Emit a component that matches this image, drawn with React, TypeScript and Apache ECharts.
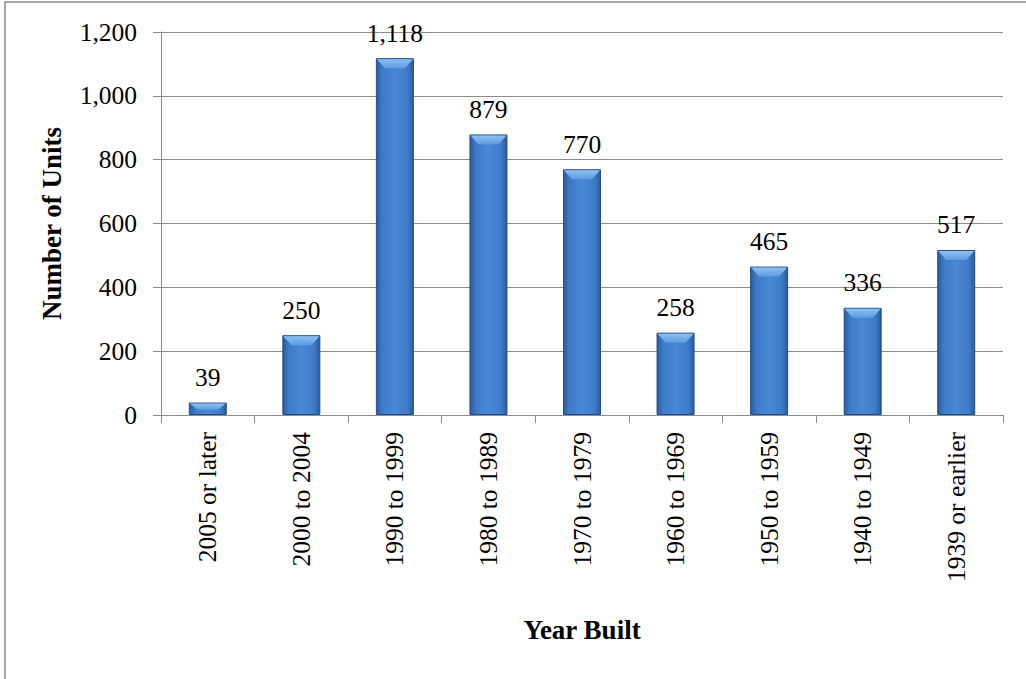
import React, { useEffect, useRef } from "react";
import * as echarts from "echarts";

const categories = [
  "2005 or later",
  "2000 to 2004",
  "1990 to 1999",
  "1980 to 1989",
  "1970 to 1979",
  "1960 to 1969",
  "1950 to 1959",
  "1940 to 1949",
  "1939 or earlier",
];
const units = [39, 250, 1118, 879, 770, 258, 465, 336, 517];
const yTicks = { min: 0, max: 1200, interval: 200 };

const fmt = (v: number) => v.toLocaleString("en-US");
const FONT = "Liberation Serif";
const FS = 25.5;
const BAR_W = 38;

export default function App() {
  const ref = useRef<HTMLDivElement>(null);
  useEffect(() => {
    if (!ref.current) return;
    const chart = echarts.init(ref.current, null, { renderer: "svg" });
    chart.setOption({
      animation: false,
      backgroundColor: "#ffffff",
      textStyle: { fontFamily: FONT, color: "#000" },
      graphic: [
        {
          type: "rect",
          shape: { x: 5, y: 2, width: 1040, height: 700 },
          style: { fill: "none", stroke: "#8c8c8c", lineWidth: 1.5 },
          silent: true,
        },
      ],
      grid: { left: 161, right: 23, top: 32, bottom: 264, containLabel: false },
      xAxis: {
        type: "category",
        data: categories,
        name: "Year Built",
        nameLocation: "middle",
        nameGap: 201,
        nameTextStyle: { fontFamily: FONT, fontSize: 27, fontWeight: "bold", color: "#000" },
        axisLine: { lineStyle: { color: "#8c8c8c", width: 1 } },
        axisTick: { show: true, length: 8, alignWithLabel: false, lineStyle: { color: "#8c8c8c" } },
        axisLabel: {
          rotate: 90,
          fontFamily: FONT,
          fontSize: FS,
          color: "#000",
          margin: 17,
          interval: 0,
        },
      },
      yAxis: {
        type: "value",
        min: yTicks.min,
        max: yTicks.max,
        interval: yTicks.interval,
        name: "Number of Units",
        nameLocation: "middle",
        nameGap: 96,
        nameRotate: 90,
        nameTextStyle: { fontFamily: FONT, fontSize: 27, fontWeight: "bold", color: "#000" },
        axisLine: { show: true, lineStyle: { color: "#8c8c8c", width: 1 } },
        axisTick: { show: true, length: 8, lineStyle: { color: "#8c8c8c" } },
        axisLabel: {
          fontFamily: FONT,
          fontSize: FS,
          color: "#000",
          margin: 24,
          formatter: (v: number) => fmt(v),
        },
        splitLine: { show: true, lineStyle: { color: "#8c8c8c", width: 1 } },
      },
      series: [
        {
          type: "bar",
          data: units,
          barWidth: BAR_W,
          itemStyle: {
            color: new echarts.graphic.LinearGradient(0, 0, 1, 0, [
              { offset: 0, color: "#2a5a9c" },
              { offset: 0.15, color: "#3d7ac6" },
              { offset: 0.5, color: "#4a89d7" },
              { offset: 0.85, color: "#3d7ac6" },
              { offset: 1, color: "#2a5a9c" },
            ]),
            borderColor: "#254d86",
            borderWidth: 1,
          },
          label: {
            show: true,
            position: "top",
            distance: 12,
            fontFamily: FONT,
            fontSize: FS,
            color: "#000",
            formatter: (p: any) => fmt(p.value),
          },
        },
        {
          type: "custom",
          silent: true,
          z: 3,
          data: units.map((v, i) => [i, v]),
          encode: { x: 0, y: 1 },
          renderItem: (params: any, api: any) => {
            const top = api.coord([api.value(0), api.value(1)]);
            const base = api.coord([api.value(0), 0]);
            const h = Math.min(9, (base[1] - top[1]) / 2);
            const x0 = top[0] - BAR_W / 2 + 1;
            const x1 = top[0] + BAR_W / 2 - 1;
            const y0 = top[1] + 1;
            return {
              type: "polygon",
              shape: {
                points: [
                  [x0, y0],
                  [x1, y0],
                  [x1 - 8, y0 + h],
                  [x0 + 8, y0 + h],
                ],
              },
              style: {
                fill: new echarts.graphic.LinearGradient(0, 0, 0, 1, [
                  { offset: 0, color: "#8ec0f2" },
                  { offset: 1, color: "#5d9be0" },
                ]),
                stroke: "none",
              },
            };
          },
        },
      ],
    });
    return () => chart.dispose();
  }, []);
  return (
    <div
      ref={ref}
      style={{ position: "fixed", left: 0, top: 0, width: 1026, height: 679 }}
    />
  );
}
